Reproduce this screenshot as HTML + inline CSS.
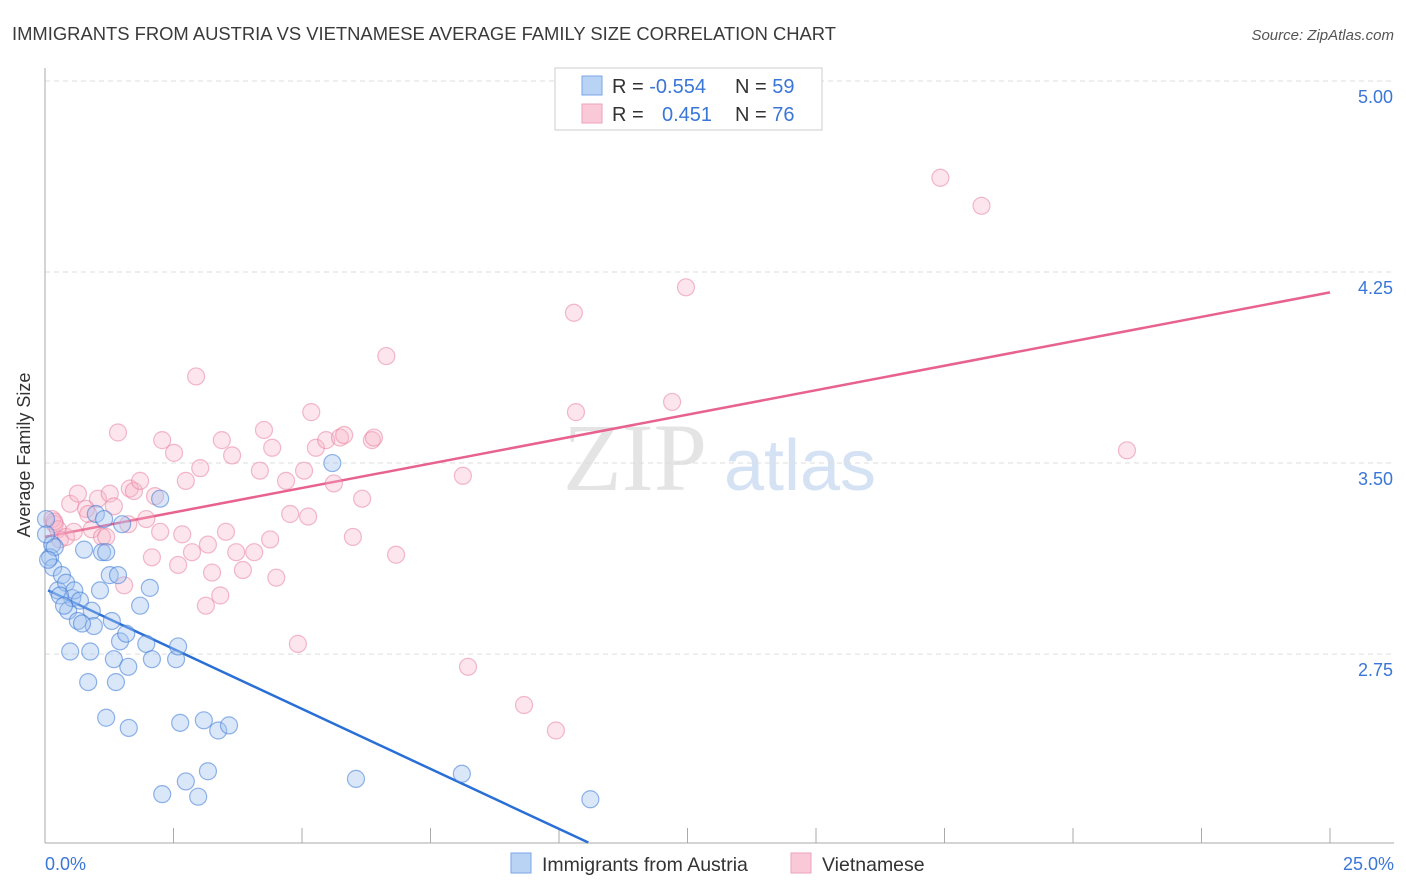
<!DOCTYPE html>
<html><head><meta charset="utf-8"><style>
body{margin:0;background:#fff;font-family:"Liberation Sans",sans-serif;}
svg{display:block}
</style></head><body>
<svg id="chart" width="1406" height="892" xmlns="http://www.w3.org/2000/svg">
<text x="12" y="40" font-size="18.4" fill="#3a3a3a">IMMIGRANTS FROM AUSTRIA VS VIETNAMESE AVERAGE FAMILY SIZE CORRELATION CHART</text>
<text x="1394" y="40" font-size="15" fill="#555" font-style="italic" text-anchor="end">Source: ZipAtlas.com</text>
<text x="635" y="490" font-size="96" fill="#e4e4e4" font-family="Liberation Serif,serif" text-anchor="middle">ZIP</text>
<text x="800" y="490" font-size="72" fill="#d4e2f4" text-anchor="middle">atlas</text>
<g id="grid"></g><g id="axes"></g><g id="lines"></g><g id="pts"></g>
<text x="30" y="455" font-size="18" fill="#333" text-anchor="middle" transform="rotate(-90 30 455)">Average Family Size</text>
<text x="45" y="870" font-size="18" fill="#3a76d8">0.0%</text>
<text x="1394" y="870" font-size="18" fill="#3a76d8" text-anchor="end">25.0%</text>
<g>
<rect x="555" y="68" width="267" height="62" fill="#fff" stroke="#ccc"/>
<rect x="582" y="76" width="20" height="19" fill="#b9d3f5" stroke="#7aa6e6"/>
<rect x="582" y="104" width="20" height="19" fill="#f9c9d8" stroke="#eea2bb"/>
<text x="612" y="93" font-size="20" fill="#333">R = <tspan fill="#3a76d8">-0.554</tspan><tspan x="735">N = </tspan><tspan fill="#3a76d8">59</tspan></text>
<text x="612" y="121" font-size="20" fill="#333">R = <tspan x="662" fill="#3a76d8">0.451</tspan><tspan x="735">N = </tspan><tspan fill="#3a76d8">76</tspan></text>
</g>
<g>
<rect x="511" y="853" width="20" height="20" fill="#b9d3f5" stroke="#7aa6e6"/>
<text x="542" y="871" font-size="19.5" fill="#333">Immigrants from Austria</text>
<rect x="791" y="853" width="20" height="20" fill="#f9c9d8" stroke="#eea2bb"/>
<text x="822" y="871" font-size="19.5" fill="#333">Vietnamese</text>
</g>
</svg>
<script>
const yTicks=[5.00,4.25,3.50,2.75];
const yTickLabels=["5.00","4.25","3.50","2.75"];
const xTicks=[0,2.5,5,7.5,10,12.5,15,17.5,20,22.5,25];
const blueX=[.14,.10,.16,.19,.25,.33,.41,.45,.49,.53,.57,.64,.68,.76,.84,.88,.91,.95,.99,1.07,1.11,1.15,1.19,1.19,1.26,1.30,1.34,1.38,1.42,1.46,1.50,1.58,1.62,1.63,1.85,1.97,2.04,2.08,2.24,2.28,2.55,2.59,2.63,2.74,2.98,3.09,3.17,3.37,3.58,5.59,6.05,8.11,10.61,.02,.02,.06,.29,.37,.72];
const blueY=[3.18,3.13,3.09,3.17,3.00,3.06,3.03,2.92,2.76,2.97,3.00,2.88,2.96,3.16,2.64,2.76,2.92,2.86,3.30,3.00,3.15,3.28,3.15,2.50,3.06,2.88,2.73,2.64,3.06,2.80,3.26,2.83,2.70,2.46,2.94,2.79,3.01,2.73,3.36,2.20,2.73,2.78,2.48,2.25,2.19,2.49,2.29,2.45,2.47,3.50,2.26,2.28,2.18,3.28,3.22,3.12,2.98,2.94,2.87];
const pinkX=[.14,.19,.25,.29,.41,.49,.56,.64,.80,.84,.91,1.03,1.11,1.19,1.26,1.34,1.42,1.54,1.62,1.65,1.73,1.85,1.97,2.08,2.14,2.24,2.28,2.51,2.59,2.67,2.74,2.86,2.94,3.02,3.13,3.17,3.25,3.41,3.44,3.52,3.64,3.72,3.85,4.07,4.18,4.26,4.38,4.42,4.50,4.69,4.77,4.92,5.04,5.12,5.18,5.27,5.47,5.62,5.74,5.82,5.99,6.17,6.36,6.40,6.64,6.83,8.13,8.23,9.32,9.94,10.29,10.33,12.20,12.47,17.42,18.22,21.05,.18];
const pinkY=[3.28,3.26,3.24,3.20,3.21,3.34,3.23,3.38,3.32,3.30,3.24,3.36,3.21,3.21,3.38,3.33,3.62,3.02,3.26,3.40,3.39,3.43,3.28,3.13,3.37,3.23,3.59,3.54,3.10,3.22,3.43,3.15,3.84,3.48,2.94,3.18,3.07,2.98,3.59,3.23,3.53,3.15,3.08,3.15,3.47,3.63,3.20,3.56,3.05,3.43,3.30,2.79,3.47,3.29,3.70,3.56,3.59,3.42,3.60,3.61,3.21,3.36,3.59,3.60,3.92,3.14,3.45,2.70,2.55,2.45,4.09,3.70,3.74,4.19,4.62,4.51,3.55,3.27];
const blueTrend=[0.06,3.00,10.57,2.01];
const pinkTrend=[0,3.21,25,4.17];
const NS="http://www.w3.org/2000/svg";
function xs(v){return 45+v*51.4;}
function ys(v){return 81+(5-v)*254.7;}
function mk(tag,attrs,parent){const e=document.createElementNS(NS,tag);for(const k in attrs)e.setAttribute(k,attrs[k]);document.getElementById(parent).appendChild(e);return e;}
yTicks.forEach((t,i)=>{
  const l=mk('line',{x1:45,x2:1394,y1:ys(t),y2:ys(t),stroke:'#ddd','stroke-dasharray':'5,4'},'grid');
  
  
  const tx=mk('text',{x:1393,y:ys(t)+22,'font-size':18,fill:'#3a76d8','text-anchor':'end'},'grid');
  tx.textContent=yTickLabels[i];
  
  
});
const ax=mk('line',{x1:45,x2:45,y1:68,y2:843,stroke:'#aaa'},'axes');


const bx=mk('line',{x1:45,x2:1394,y1:843,y2:843,stroke:'#aaa'},'axes');


xTicks.forEach(t=>{
  const l=mk('line',{x1:xs(t),x2:xs(t),y1:828,y2:843,stroke:'#aaa'},'axes');
  
  
});
const bl=mk('line',{x1:xs(blueTrend[0]),y1:ys(blueTrend[1]),x2:xs(blueTrend[2]),y2:ys(blueTrend[3]),stroke:'#2a6fd6','stroke-width':2.5},'lines');


const pl=mk('line',{x1:xs(pinkTrend[0]),y1:ys(pinkTrend[1]),x2:xs(pinkTrend[2]),y2:ys(pinkTrend[3]),stroke:'#e8628e','stroke-width':2.5},'lines');


pinkX.forEach((x,i)=>{
  const c=mk('circle',{cx:xs(x),cy:ys(pinkY[i]),r:8.5,fill:'rgba(246,180,200,0.35)',stroke:'rgba(232,120,156,0.5)','stroke-width':1.2},'pts');
  
  
});
blueX.forEach((x,i)=>{
  const c=mk('circle',{cx:xs(x),cy:ys(blueY[i]),r:8.5,fill:'rgba(160,196,240,0.4)',stroke:'rgba(60,120,214,0.55)','stroke-width':1.2},'pts');
  
  
});
</script>
</body></html>
